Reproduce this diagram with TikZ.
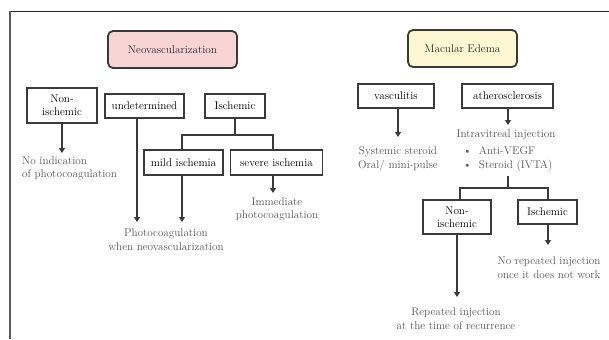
\documentclass[tikz,border=0pt]{standalone}
\usetikzlibrary{arrows.meta}
\definecolor{pinkfill}{HTML}{F9D4D4}
\definecolor{yellowfill}{HTML}{FDF7D3}
\definecolor{boxline}{HTML}{3A3A3A}
\definecolor{anno}{HTML}{555555}
\tikzset{
  fnt/.style={font=\fontsize{11.2}{13.5}\selectfont},
  headbox/.style={fnt, draw=boxline, line width=1.8pt, rounded corners=5pt, inner sep=0pt, text=black!85},
  rbox/.style={fnt, draw=boxline, line width=1.5pt, fill=white, inner sep=0pt, align=center, text=black},
  annot/.style={fnt, text=anno, inner sep=0pt, align=center},
  arr/.style={draw=boxline, line width=1.5pt, -{Triangle[width=6pt,length=5pt]}},
  conn/.style={draw=boxline, line width=1.5pt},
}
\begin{document}
\begin{tikzpicture}[x=1bp,y=-1bp]
\useasboundingbox (0,0) rectangle (609,339);
% frame
\draw[black!85, line width=1pt] (10,11) -- (609,11);
\draw[black!65, line width=2pt] (10,11) -- (10,339);

% heads
\node[headbox, fill=pinkfill, minimum width=129bp, minimum height=37bp] (neo) at (172.5,49.5) {Neovascularization};
\node[headbox, fill=yellowfill, minimum width=109bp, minimum height=37bp] (mac) at (462.5,48.5) {Macular Edema};

% left boxes
\node[rbox, minimum width=70bp, minimum height=35bp] (nonL) at (62,105.5) {Non-\\ischemic};
\node[rbox, minimum width=79bp, minimum height=24bp] (und) at (144.5,106) {undetermined};
\node[rbox, minimum width=60bp, minimum height=24bp] (iscL) at (235,106) {Ischemic};
\node[rbox, minimum width=79bp, minimum height=25bp] (mild) at (183.5,162.5) {mild ischemia};
\node[rbox, minimum width=92bp, minimum height=25bp] (sev) at (276.5,162.5) {severe ischemia};

% right boxes
\node[rbox, minimum width=76bp, minimum height=24bp] (vas) at (396,96) {vasculitis};
\node[rbox, minimum width=91bp, minimum height=24bp] (ath) at (507.5,96) {atherosclerosis};
\node[rbox, minimum width=68bp, minimum height=34bp] (nonR) at (457,217) {Non-\\ischemic};
\node[rbox, minimum width=59bp, minimum height=24bp] (iscR) at (547.5,212) {Ischemic};

% annotations
\node[annot, align=left, anchor=west] (t1) at (22,168.5) {No indication\\of photocoagulation};
\node[annot] (t2) at (166,239.5) {Photocoagulation\\when neovascularization};
\node[annot] (t3) at (277,209) {Immediate\\photocoagulation};
\node[annot] (t4) at (398,159) {Systemic steroid\\Oral/ mini-pulse};
\node[annot] (t5) at (506,135) {Intravitreal injection};
\node[annot, align=left, anchor=west] (t5b) at (463,159) {\textbullet\ \ Anti-VEGF\\[1pt]\textbullet\ \ Steroid (IVTA)};
\node[annot] (t6) at (456,318.5) {Repeated injection\\at the time of recurrence};
\node[annot] (t7) at (549,267.5) {No repeated injection\\once it does not work};

% coordinates for connectors
\coordinate (a1) at (62,153);
\coordinate (a2) at (137,222);
\coordinate (a3) at (182,222);
\coordinate (a4) at (273,193);
\coordinate (bL) at (235,135);
\coordinate (bLl) at (182,135);
\coordinate (bLr) at (273,135);
\coordinate (a5) at (398,137);
\coordinate (a6) at (508,125);
\coordinate (bRs) at (508,176);
\coordinate (bR) at (508,188);
\coordinate (bRl) at (460,188);
\coordinate (bRr) at (548,188);
\coordinate (a7) at (457,297);
\coordinate (a8) at (548,245);

% left connectors
\draw[arr] (nonL.south -| a1) -- (a1);
\draw[arr] (und.south -| a2) -- (a2);
\draw[conn] (iscL.south) -- (bL);
\draw[conn] (bLl |- mild.north) -- (bLl) -- (bLr) -- (bLr |- sev.north);
\draw[arr] (mild.south -| a3) -- (a3);
\draw[arr] (sev.south -| a4) -- (a4);

% right connectors
\draw[arr] (vas.south -| a5) -- (a5);
\draw[arr] (ath.south -| a6) -- (a6);
\draw[conn] (bRs) -- (bR);
\draw[conn] (bRl |- nonR.north) -- (bRl) -- (bRr) -- (bRr |- iscR.north);
\draw[arr] (nonR.south -| a7) -- (a7);
\draw[arr] (iscR.south -| a8) -- (a8);
\end{tikzpicture}
\end{document}
